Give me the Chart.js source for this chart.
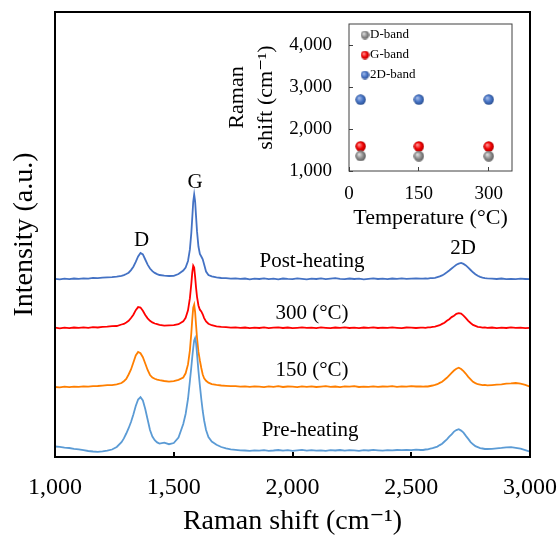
<!DOCTYPE html>
<html>
<head>
<meta charset="utf-8">
<script src="https://cdn.jsdelivr.net/npm/chart.js@4.4.1/dist/chart.umd.min.js"></script>
<style>
  html, body { margin: 0; padding: 0; background: #fff; }
  #wrap { position: relative; width: 559px; height: 538px; }
  #main { position: absolute; left: 0; top: 0; }
  #inset { position: absolute; left: 215px; top: 15px; }
</style>
</head>
<body>
<div id="wrap">
  <canvas id="main" width="559" height="538"></canvas>
  <canvas id="inset" width="310" height="218"></canvas>
</div>
<script>
// Raman shift (cm-1) shared by the four spectra
const shifts = [
  1000, 1020, 1040, 1060, 1080, 1100, 1120, 1140, 1160, 1180, 1200, 1220, 1240, 1260, 1280,
  1290, 1300, 1310, 1320, 1330, 1340, 1350, 1360, 1370, 1380, 1390, 1400, 1410, 1420, 1430, 1440,
  1460, 1480, 1500, 1520, 1540, 1550, 1560,
  1568, 1574, 1578, 1582, 1586, 1590, 1594, 1598, 1604, 1610, 1616, 1622, 1628, 1636, 1646, 1660,
  1680, 1700, 1720, 1740, 1760, 1780, 1800, 1820, 1840, 1860, 1880, 1900, 1920, 1940, 1960, 1980,
  2000, 2020, 2040, 2060, 2080, 2100, 2120, 2140, 2160, 2180, 2200, 2220, 2240, 2260, 2280, 2300,
  2320, 2340, 2360, 2380, 2400, 2420, 2440, 2460, 2480, 2500, 2520, 2540,
  2550, 2560, 2570, 2580, 2590, 2600, 2610, 2620, 2630, 2640, 2650, 2660, 2670, 2680, 2690, 2700,
  2710, 2720, 2730, 2740, 2750, 2760, 2770, 2780, 2790, 2800, 2810, 2820,
  2840, 2860, 2880, 2900, 2920, 2940, 2960, 2980, 3000
];

// intensities (a.u., curves already stacked)
const postHeating = [
  178.2, 177.6, 178.3, 177.9, 178.5, 178.1, 178.6, 178.4, 179.1, 178.9, 179.3, 179.6, 179.8, 180.4, 181.2,
  181.9, 183.0, 184.3, 186.9, 190.3, 195.1, 200.6, 204.1, 202.6, 197.5, 192.4, 188.5, 185.9, 184.1, 182.9, 182.0,
  181.4, 181.0, 181.2, 183.0, 186.5, 189.5, 196.0,
  207.6, 224.1, 239.5, 255.2, 262.5, 255.6, 240.4, 225.6, 210.5, 203.1, 200.5, 197.7, 192.5, 185.5, 182.0, 180.6,
  179.6, 179.0, 178.8, 178.4, 178.7, 178.1, 178.5,
  177.7, 178.4, 178.0, 178.6, 177.8, 178.3, 177.6, 178.5, 178.1, 177.9,
  178.7, 178.2, 177.7, 178.4, 178.0, 178.6, 177.9, 178.3, 178.8, 178.1,
  177.8, 178.5, 178.0, 178.4, 177.7, 178.2, 178.6, 178.0, 178.3, 177.9,
  178.5, 178.2, 178.7, 178.1, 178.4, 178.6, 178.3,
  178.3, 178.7, 178.4, 178.8, 178.9, 179.2, 179.9, 180.6, 181.6, 183.1, 184.7, 186.5, 188.5, 190.4,
  192.3, 193.4, 194.1, 193.1, 191.6, 189.3, 187.0, 184.7, 182.8, 181.2, 180.1, 179.4, 178.9, 178.6,
  178.3, 178.0, 178.5, 177.9, 178.2, 177.8, 178.3, 178.0, 177.8
];
const heated300 = [
  129.3, 128.7, 129.4, 128.9, 129.5, 129.1, 129.6, 129.2, 129.9, 129.5, 130.1, 130.3, 130.9, 131.0, 132.5,
  133.1, 134.6, 136.2, 139.0, 142.3, 146.8, 149.9, 149.5, 146.2, 142.0, 138.7, 136.2, 134.6, 133.5, 132.9, 132.2,
  131.3, 131.6, 131.9, 132.8, 135.6, 139.2, 146.6,
  158.8, 173.4, 184.6, 191.4, 189.6, 180.1, 169.1, 160.2, 151.5, 147.3, 145.6, 142.7, 138.9, 135.5, 133.3, 131.8,
  130.6, 130.1, 129.9, 129.4, 129.7, 129.2, 129.5,
  128.8, 129.4, 129.0, 129.6, 128.9, 129.3, 129.7, 129.0, 129.5, 128.8,
  129.2, 129.6, 129.1, 129.4, 128.9, 129.7, 129.2, 128.8, 129.5, 129.1,
  129.6, 129.0, 129.3, 128.9, 129.5, 129.2, 129.7, 129.0, 129.4, 129.1,
  129.6, 129.2, 128.9, 129.5, 129.3, 129.0, 129.4,
  129.4, 129.1, 129.6, 129.7, 130.1, 130.4, 131.1, 131.8, 133.1, 134.3, 136.3, 137.8, 139.9, 141.3,
  143.1, 143.9, 143.4, 141.4, 138.9, 136.1, 134.0, 132.1, 131.1, 130.1, 129.9, 129.3, 129.7, 129.2,
  129.5, 128.9, 129.4, 129.0, 129.6, 129.1, 129.3, 128.8, 129.2
];
const heated150 = [
  70.0, 69.6, 70.3, 69.8, 70.4, 70.1, 70.6, 70.3, 70.9, 71.0, 71.4, 71.8, 71.9, 72.6, 74.0,
  75.8, 78.0, 82.5, 87.5, 94.5, 101.5, 105.0, 103.8, 99.8, 93.5, 87.0, 82.0, 79.5, 78.2, 77.3, 76.8,
  76.0, 75.4, 75.9, 77.2, 79.5, 83.7, 92.6,
  106.7, 124.0, 137.9, 149.4, 152.3, 144.8, 131.8, 119.0, 105.1, 96.5, 89.0, 82.5, 78.8, 76.2, 74.3, 72.9,
  72.1, 71.5, 71.2, 70.8, 70.9, 70.4, 70.6,
  70.1, 70.7, 70.3, 69.9, 70.6, 70.2, 70.8, 70.0, 70.5, 70.3,
  69.8, 70.6, 70.2, 70.7, 70.0, 70.4, 70.9, 70.1, 70.5, 69.9,
  70.6, 70.3, 70.8, 70.0, 70.4, 70.2, 70.7, 70.1, 70.5, 70.3,
  70.8, 70.2, 70.6, 70.4, 70.9, 70.5, 70.7,
  70.3, 70.7, 70.5, 71.0, 71.5, 72.1, 72.8, 74.1, 75.3, 77.2, 79.2, 81.7, 84.1, 86.5,
  88.2, 89.3, 88.0, 85.8, 83.2, 80.1, 77.6, 75.2, 73.9, 72.8, 72.4, 71.8, 72.1, 71.6,
  71.9, 72.3, 72.7, 73.4, 73.6, 74.0, 73.4, 72.1, 70.4
];
const preHeating = [
  10.5, 10.2, 9.4, 9.0, 8.2, 7.6, 6.8, 6.0, 5.5, 5.2, 5.6, 6.3, 7.5, 10.0, 14.8,
  18.6, 23.5, 28.8, 35.0, 42.5, 51.0, 57.5, 59.8, 56.5, 48.0, 37.5, 27.0, 20.5, 16.8, 14.6, 13.4,
  14.4, 12.8, 14.0, 19.5, 33.0, 43.0, 58.0,
  76.0, 90.0, 100.0, 109.0, 116.5, 119.0, 114.0, 103.0, 86.0, 71.5, 58.0, 46.0, 36.5, 27.0, 20.0, 15.5,
  12.3, 10.0, 8.6, 7.7, 7.2, 6.6, 6.5,
  6.1, 6.7, 6.3, 6.9, 6.2, 6.5, 7.0, 6.4, 6.8, 6.1,
  6.6, 7.1, 6.4, 6.9, 6.3, 6.7, 6.2, 6.8, 6.5, 7.0,
  6.4, 6.9, 6.6, 6.2, 6.8, 6.5, 7.1, 6.7, 6.4, 6.9,
  6.6, 7.0, 6.8, 7.2, 6.9, 7.3, 7.0,
  7.0, 7.5, 7.7, 8.4, 8.8, 9.7, 10.4, 11.9, 13.3, 15.5, 17.6, 20.3, 22.7, 25.4,
  26.9, 27.8, 26.4, 24.4, 21.1, 18.1, 14.9, 12.7, 10.8, 9.9, 8.9, 8.5, 8.0, 8.0,
  8.2, 8.7, 9.1, 9.7, 9.9, 9.2, 8.3, 6.8, 5.4
];

const xTickValues = [1000, 1500, 2000, 2500, 3000];
const xTickLabels = ['1,000', '1,500', '2,000', '2,500', '3,000'];

// text written on the spectra
const peakNames = ['D', 'G', '2D'];
const peakX = [1365, 1590, 2718];
const peakY = [217, 275, 209];
const curveNames = ['Post-heating', '300 (°C)', '150 (°C)', 'Pre-heating'];
const curveX = [2082, 2082, 2082, 2074];
const curveY = [196, 144, 87, 27];

// inset: peak positions vs temperature
const temps = [25, 150, 300];
const dBand = [1360, 1355, 1354];
const gBand = [1589, 1585, 1583];
const band2D = [2698, 2701, 2701];
const insetXTicks = [0, 150, 300];
const insetXLabels = ['0', '150', '300'];
const insetYTicks = [1000, 2000, 3000, 4000];
const insetYLabels = ['1,000', '2,000', '3,000', '4,000'];

Chart.defaults.font.family = '"Liberation Serif", "DejaVu Serif", serif';
Chart.defaults.color = '#000';

function toPoints(ys) {
  return shifts.map((x, i) => ({ x: x, y: ys[i] }));
}

// fixed axis size, and no extra room for the end labels
function fixSize(size) {
  return function (s) {
    if (s.isHorizontal()) s.height = size; else s.width = size;
    s.paddingLeft = s.paddingRight = s.paddingTop = s.paddingBottom = 0;
  };
}

// small shaded ball used as marker
function sphere(base, light, dark, size) {
  const c = document.createElement('canvas');
  c.width = c.height = size;
  const g = c.getContext('2d');
  const r = size / 2;
  const grad = g.createRadialGradient(r * 0.7, r * 0.7, r * 0.1, r, r, r);
  grad.addColorStop(0, light);
  grad.addColorStop(0.55, base);
  grad.addColorStop(1, dark);
  g.fillStyle = grad;
  g.beginPath();
  g.arc(r, r, r - 0.3, 0, Math.PI * 2);
  g.fill();
  return c;
}

const markers = [
  sphere('#8c8c8c', '#dcdcdc', '#5a5a5a', 11),
  sphere('#f00000', '#ff8a8a', '#a80000', 11),
  sphere('#4472c4', '#9db6e6', '#2b4e8c', 11)
];
const legendIcons = [
  sphere('#8c8c8c', '#dcdcdc', '#5a5a5a', 9),
  sphere('#f00000', '#ff8a8a', '#a80000', 9),
  sphere('#4472c4', '#9db6e6', '#2b4e8c', 9)
];

const framePlugin = {
  id: 'frame',
  afterDraw(chart, args, opts) {
    const a = chart.chartArea;
    const ctx = chart.ctx;
    ctx.save();
    ctx.strokeStyle = opts.color;
    ctx.lineWidth = opts.width;
    ctx.strokeRect(a.left, a.top, a.right - a.left, a.bottom - a.top);
    ctx.restore();
  }
};

const spectraLabels = {
  id: 'spectraLabels',
  afterDatasetsDraw(chart) {
    const ctx = chart.ctx;
    const x = chart.scales.x;
    const y = chart.scales.y;
    ctx.save();
    ctx.fillStyle = '#000';
    ctx.textAlign = 'center';
    ctx.textBaseline = 'middle';
    ctx.font = '21px "Liberation Serif", serif';
    peakNames.forEach((t, i) => ctx.fillText(t, x.getPixelForValue(peakX[i]), y.getPixelForValue(peakY[i])));
    curveNames.forEach((t, i) => ctx.fillText(t, x.getPixelForValue(curveX[i]), y.getPixelForValue(curveY[i])));
    ctx.restore();
  }
};

const insetLegend = {
  id: 'insetLegend',
  afterDraw(chart, args, opts) {
    const ctx = chart.ctx;
    const a = chart.chartArea;
    ctx.save();
    ctx.font = opts.size + 'px "Liberation Serif", serif';
    ctx.fillStyle = '#000';
    ctx.textAlign = 'left';
    ctx.textBaseline = 'middle';
    chart.data.datasets.forEach((ds, i) => {
      const cy = a.top + opts.top + i * opts.step;
      const icon = legendIcons[i];
      ctx.drawImage(icon, a.left + opts.left - icon.width / 2, cy - icon.height / 2);
      ctx.fillText(ds.label, a.left + opts.left + opts.gap, cy);
    });
    ctx.restore();
  }
};

new Chart(document.getElementById('main'), {
  type: 'line',
  data: {
    datasets: [
      { label: 'Pre-heating', data: toPoints(preHeating), borderColor: '#5B9BD5' },
      { label: '150 (°C)', data: toPoints(heated150), borderColor: '#FF7F00' },
      { label: '300 (°C)', data: toPoints(heated300), borderColor: '#FF0000' },
      { label: 'Post-heating', data: toPoints(postHeating), borderColor: '#4472C4' }
    ]
  },
  options: {
    responsive: false,
    animation: false,
    elements: {
      point: { radius: 0 },
      line: { borderWidth: 1.8, tension: 0 }
    },
    layout: { padding: { top: 12, right: 29, left: 0, bottom: 0 } },
    plugins: {
      legend: { display: false },
      tooltip: { enabled: false },
      frame: { color: '#000', width: 2 }
    },
    scales: {
      x: {
        type: 'linear',
        min: 1000,
        max: 3000,
        afterBuildTicks: s => { s.ticks = xTickValues.map(v => ({ value: v })); },
        afterFit: fixSize(81),
        ticks: {
          font: { size: 24 },
          padding: 21,
          maxRotation: 0,
          autoSkip: false,
          callback: (v, i) => xTickLabels[i]
        },
        grid: { drawOnChartArea: false, tickLength: -5, lineWidth: 2, color: '#000' },
        border: { display: false },
        title: { display: true, text: 'Raman shift (cm⁻¹)', font: { size: 28 }, padding: 0 }
      },
      y: {
        min: 0,
        max: 445,
        afterFit: fixSize(55),
        ticks: { display: false },
        grid: { display: false },
        border: { display: false },
        title: { display: true, text: 'Intensity (a.u.)', font: { size: 28 }, padding: { top: 8, bottom: 0 } }
      }
    }
  },
  plugins: [framePlugin, spectraLabels]
});

new Chart(document.getElementById('inset'), {
  type: 'scatter',
  data: {
    datasets: [
      { label: 'D-band', data: temps.map((t, i) => ({ x: t, y: dBand[i] })), pointStyle: markers[0] },
      { label: 'G-band', data: temps.map((t, i) => ({ x: t, y: gBand[i] })), pointStyle: markers[1] },
      { label: '2D-band', data: temps.map((t, i) => ({ x: t, y: band2D[i] })), pointStyle: markers[2] }
    ]
  },
  options: {
    responsive: false,
    animation: false,
    layout: { padding: { top: 9, right: 13, left: 0, bottom: 0 } },
    plugins: {
      legend: { display: false },
      tooltip: { enabled: false },
      frame: { color: '#404040', width: 1 },
      insetLegend: { size: 13, top: 11, step: 20, left: 16, gap: 5 }
    },
    scales: {
      x: {
        type: 'linear',
        min: 0,
        max: 350,
        afterBuildTicks: s => { s.ticks = insetXTicks.map(v => ({ value: v })); },
        afterFit: fixSize(62),
        ticks: { font: { size: 19 }, padding: 16, maxRotation: 0, autoSkip: false, callback: (v, i) => insetXLabels[i] },
        grid: { drawOnChartArea: false, tickLength: -4, color: '#404040' },
        border: { display: false },
        title: { display: true, text: 'Temperature (°C)', font: { size: 22 }, padding: { top: 0, bottom: 2 } }
      },
      y: {
        min: 1000,
        max: 4500,
        afterBuildTicks: s => { s.ticks = insetYTicks.map(v => ({ value: v })); },
        afterFit: fixSize(134),
        ticks: { font: { size: 19 }, padding: 21, autoSkip: false, callback: (v, i) => insetYLabels[i] },
        grid: { drawOnChartArea: false, tickLength: -4, color: '#404040' },
        border: { display: false },
        title: {
          display: true,
          text: ['Raman', 'shift (cm⁻¹)'],
          font: { size: 22, lineHeight: 1.3 },
          padding: { top: 8, bottom: 0 }
        }
      }
    }
  },
  plugins: [framePlugin, insetLegend]
});
</script>
</body>
</html>
